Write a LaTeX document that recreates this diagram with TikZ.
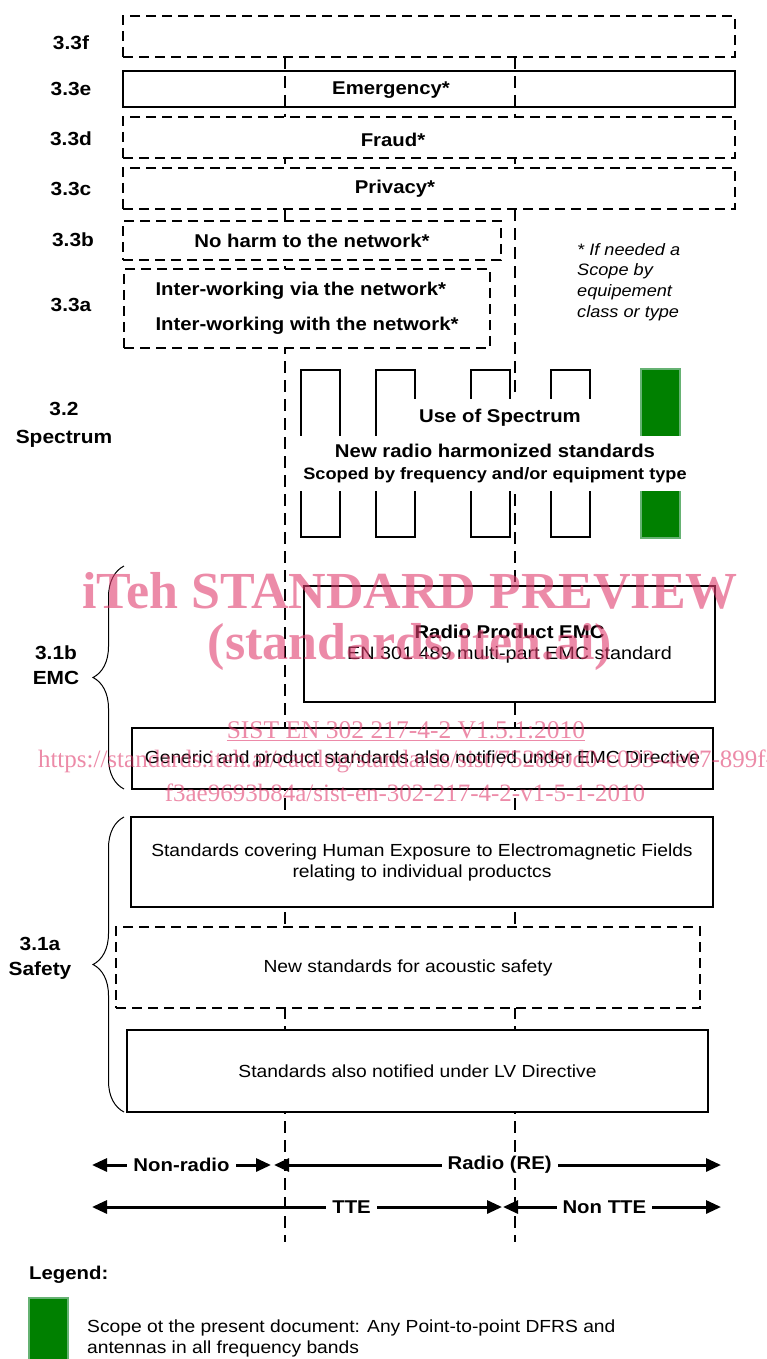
\documentclass[tikz,border=0pt]{standalone}
\usepackage{fontspec}
\setmainfont{Liberation Sans}[FakeStretch=1.1]
\newfontfamily\wmfont{Liberation Serif}
\usepackage{xcolor}
\definecolor{scope}{rgb}{0,0.5,0}
\definecolor{scopeedge}{rgb}{0.4,0.7,0.45}
\definecolor{wm}{rgb}{0.88,0.24,0.43}
\usepackage{tikz}
\usetikzlibrary{arrows.meta, positioning, calc, decorations.pathreplacing}
\tikzstyle{sbox} = [draw, line width=2.5pt, fill=white, inner sep=0pt]
\tikzstyle{dbox} = [sbox, dash pattern=on 10pt off 6pt]
\tikzstyle{vline} = [line width=2.5pt, dash pattern=on 12pt off 7pt]
\tikzstyle{band} = [draw, line width=2pt]
\tikzstyle{dimarrow} = [line width=3pt, {Triangle[length=15pt,width=13pt]}-{Triangle[length=15pt,width=13pt]}]
\tikzstyle{txtb} = [font=\bfseries\fontsize{18.5}{22}\selectfont]
\tikzstyle{txtr} = [font=\fontsize{17.5}{21}\selectfont]
\tikzstyle{tag} = [font=\bfseries\fontsize{19}{25}\selectfont, align=center]
\tikzstyle{onarrow} = [txtb, fill=white, inner xsep=6pt, inner ysep=3pt]
\tikzstyle{brc} = [decorate, decoration={brace, amplitude=31pt}, line width=1pt]
\tikzstyle{wmark} = [text=wm, text opacity=0.6]

\begin{document}
\begin{tikzpicture}[x=1pt, y=-1pt]
    \useasboundingbox (0,0) rectangle (766,1359);

    % TTE / radio boundaries
    \coordinate (tte-top) at (285,57);
    \coordinate (tte-bot) at (285,1242);
    \coordinate (re-top) at (515,57);
    \coordinate (re-bot) at (515,1242);
    \draw[vline] (tte-top) -- (tte-bot);
    \draw[vline] (re-top) -- (re-bot);

    % 3.3 boxes
    \node[dbox, minimum width=612, minimum height=41] (b33f) at (429,36.5) {};
    \node[sbox, fill=none, minimum width=612, minimum height=36] (b33e) at (429,89) {};
    \node[txtb] (emerg) at (391,90) {Emergency*};
    \node[dbox, minimum width=612, minimum height=41] (b33d) at (429,137.5) {};
    \node[txtb] (fraud) at (393,140) {Fraud*};
    \node[dbox, minimum width=612, minimum height=41] (b33c) at (429,188.5) {};
    \node[txtb] (priv) at (395,189) {Privacy*};
    \node[dbox, txtb, minimum width=378, minimum height=39] (b33b) at (312,240.5)
    {No harm to the network*};
    \node[dbox, txtb, align=left, minimum width=366, minimum height=79] (b33a) at (307,308.5)
    {Inter-working via the network*\\[13pt]Inter-working with the network*};

    % labels, left
    \node[tag] (l33f) at (71,43) {3.3f};
    \node[tag] (l33e) at (71,89) {3.3e};
    \node[tag] (l33d) at (71,139) {3.3d};
    \node[tag] (l33c) at (71,189) {3.3c};
    \node[tag] (l33b) at (73,240) {3.3b};
    \node[tag] (l33a) at (71,305) {3.3a};

    % footnote
    \node[font=\itshape\fontsize{16.5}{20.7}\selectfont, align=left, inner sep=0pt, anchor=west]
    (star) at (577,282) {* If needed a\\Scope by\\equipement\\class or type};

    % spectrum bands
    \foreach \x in {301,376,471,551}
        \draw[band] (\x,370) rectangle ++(39,167);
    \draw[fill=scope, draw=scopeedge, line width=1.5pt] (641,369) rectangle (680,538);
    \node[txtb, fill=white, minimum width=188, minimum height=37] (useof) at (500,417.5)
    {Use of Spectrum};
    \node[txtb, fill=white, align=center, minimum width=410, minimum height=55] (newrad) at (495,463.5)
    {New radio harmonized standards\\{\fontsize{16.5}{23}\selectfont Scoped by frequency and/or equipment type}};
    \node[tag, font=\bfseries\fontsize{19}{28}\selectfont] (l32) at (64,425) {3.2\\Spectrum};

    % EMC
    \node[sbox, txtr, align=center, minimum width=411, minimum height=116] (emc) at (509.5,644)
    {{\bfseries\fontsize{18.5}{26}\selectfont Radio Product EMC}\\{\fontsize{18}{26}\selectfont EN 301 489 multi-part EMC standard}};
    \node[sbox, txtr, minimum width=581, minimum height=61] (gen) at (422.5,758.5)
    {Generic and product standards also notified under EMC Directive};
    \node[tag] (l31b) at (56,665) {3.1b\\EMC};
    \draw[brc] (124,789) -- (124,566);

    % safety
    \node[sbox, txtr, align=center, minimum width=582, minimum height=90] (hum) at (422,862)
    {Standards covering Human Exposure to Electromagnetic Fields\\relating to individual productcs};
    \node[dbox, txtr, minimum width=584, minimum height=81] (acou) at (408,967.5)
    {New standards for acoustic safety};
    \node[sbox, txtr, minimum width=581, minimum height=82] (lv) at (417.5,1071)
    {Standards also notified under LV Directive};
    \node[tag] (l31a) at (40,958) {3.1a\\Safety};
    \draw[brc] (124,1112) -- (124,817);

    % ranges
    \coordinate (nr-l) at (92,1165);
    \coordinate (nr-r) at (271,1165);
    \coordinate (re-l) at (274,1165);
    \coordinate (re-r) at (721,1165);
    \coordinate (tte-l) at (92,1207);
    \coordinate (tte-r) at (502,1207);
    \coordinate (ntte-l) at (503,1207);
    \coordinate (ntte-r) at (721,1207);
    \draw[dimarrow] (nr-l) -- (nr-r) node[onarrow, pos=0.5] (nrtxt) {Non-radio};
    \draw[dimarrow] (re-l) -- (re-r) node[onarrow, pos=0.505] (retxt) {Radio (RE)};
    \draw[dimarrow] (tte-l) -- (tte-r) node[onarrow, pos=0.633] (ttetxt) {TTE};
    \draw[dimarrow] (ntte-l) -- (ntte-r) node[onarrow, pos=0.465] (nttetxt) {Non TTE};

    % legend
    \node[txtb, anchor=west, inner sep=0pt] (leg) at (29,1275) {Legend:};
    \node[fill=scope, draw=scopeedge, line width=1.5pt, minimum width=39, minimum height=70,
    anchor=north west] (legbox) at (28,1297) {};
    \node[txtr, align=left, anchor=west, inner sep=0pt] (legtxt) at (87,1338)
    {Scope ot the present document: Any Point-to-point DFRS and\\antennas in all frequency bands};

    % watermark
    \node[wmark, font=\wmfont\bfseries\fontsize{52}{56}\selectfont] (wm1) at (410,591)
    {iTeh STANDARD PREVIEW};
    \node[wmark, font=\wmfont\bfseries\fontsize{52}{56}\selectfont] (wm2) at (410,647)
    {(standards.iteh.ai)};
    \node[wmark, font=\wmfont\fontsize{25.5}{28}\selectfont] (wm3) at (406,731)
    {\underline{SIST EN 302 217-4-2 V1.5.1:2010}};
    \node[wmark, font=\wmfont\fontsize{25}{28}\selectfont] (wm4) at (406,761)
    {https://standards.iteh.ai/catalog/standards/sist/752890d0-c093-4e07-899f-};
    \node[wmark, font=\wmfont\fontsize{25}{28}\selectfont] (wm5) at (405,793)
    {f3ae9693b84a/sist-en-302-217-4-2-v1-5-1-2010};
\end{tikzpicture}
\end{document}
